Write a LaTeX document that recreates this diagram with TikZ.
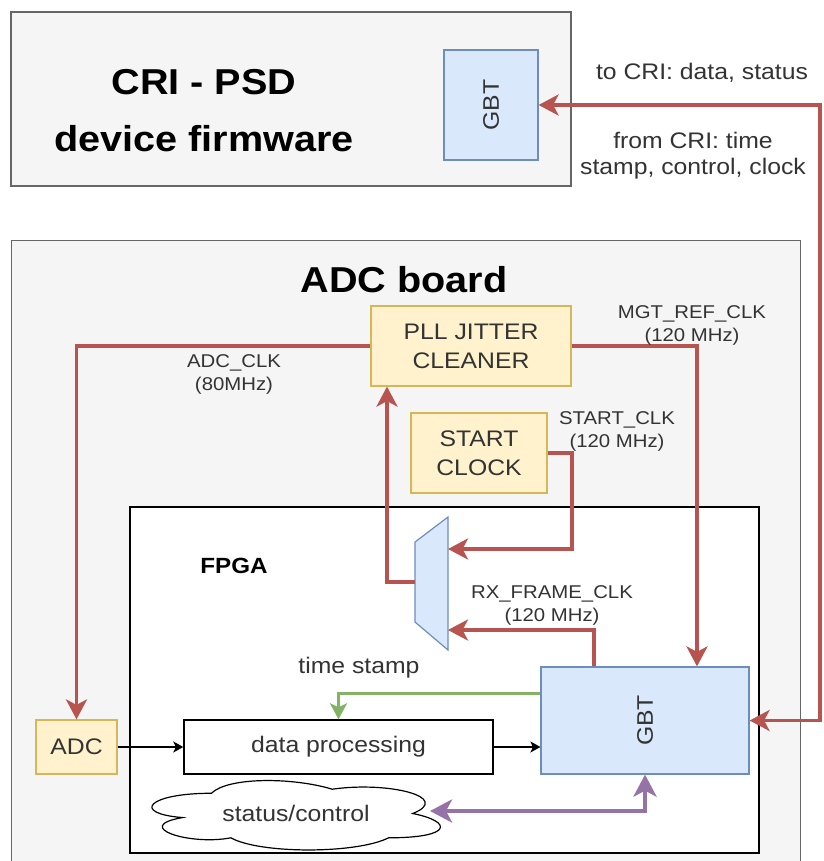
\documentclass[tikz,border=0pt]{standalone}
\usepackage{fontspec}
\setmainfont[FakeStretch=1.1]{Liberation Sans}
\usetikzlibrary{arrows.meta,calc}
\definecolor{redc}{HTML}{B85450}
\definecolor{greenc}{HTML}{82B366}
\definecolor{purpc}{HTML}{9673A6}
\definecolor{grayfill}{HTML}{F5F5F5}
\definecolor{graydraw}{HTML}{666666}
\definecolor{yfill}{HTML}{FFF2CC}
\definecolor{ydraw}{HTML}{D6B656}
\definecolor{bfill}{HTML}{DAE8FC}
\definecolor{bdraw}{HTML}{6C8EBF}
\definecolor{txt}{HTML}{333333}
\begin{document}
\begin{tikzpicture}[x=1pt,y=-1pt,
  graybox/.style={draw=graydraw, fill=grayfill, line width=1.3pt, inner sep=0pt},
  ybox/.style={draw=ydraw, fill=yfill, line width=1.2pt, inner sep=0pt, align=center, text=txt, font=\fontsize{22.5}{29}\selectfont},
  bbox/.style={draw=bdraw, fill=bfill, line width=1.2pt, inner sep=0pt, align=center, text=txt, font=\fontsize{22.5}{27}\selectfont},
  wbox/.style={draw=black, fill=white, line width=1.4pt, inner sep=0pt, align=center, text=txt, font=\fontsize{22.5}{27}\selectfont},
  lbl/.style={inner sep=0pt, align=center, text=txt, font=\fontsize{18.5}{23}\selectfont},
  mlbl/.style={inner sep=0pt, align=center, text=txt, font=\fontsize{22.5}{26}\selectfont},
  title/.style={inner sep=0pt, align=center, text=black, font=\bfseries\fontsize{36}{57}\selectfont},
  redln/.style={draw=redc, line width=3.5pt},
  greenln/.style={draw=greenc, line width=3pt},
  purpln/.style={draw=purpc, line width=4pt},
  blkln/.style={draw=black, line width=1.3pt},
  rtip/.tip={Stealth[length=20pt,width=21pt,inset=5.5pt]},
  gtip/.tip={Stealth[length=16pt,width=17pt,inset=4pt]},
  ptip/.tip={Stealth[length=22pt,width=23pt,inset=6pt]},
  ktip/.tip={Stealth[length=10pt,width=11pt,inset=2.5pt]}
]
\useasboundingbox (0,0) rectangle (823,861);
\clip (0,0) rectangle (823,861);

% CRI box
\node[graybox, minimum width=560pt, minimum height=174pt] (cri) at (291,99) {};
\node[bbox, minimum width=94pt, minimum height=110pt] (gbts) at (491,105) {\rotatebox{90}{GBT}};
\node[title] (crititle) at (204,111) {CRI - PSD\\device firmware};

% ADC board
\node[graybox, minimum width=789pt, minimum height=640pt, anchor=north west] (board) at (11,240) {};
\node[title] (boardtitle) at (404,280) {ADC board};

% FPGA
\node[wbox, minimum width=629pt, minimum height=346pt] (fpga) at (444.5,680) {};
\node[inner sep=0pt, text=black, font=\bfseries\fontsize{22}{26}\selectfont] (fpgat) at (234,566) {FPGA};

% boxes
\node[ybox, minimum width=200pt, minimum height=80pt] (pll) at (471,346) {PLL JITTER\\CLEANER};
\node[ybox, minimum width=136pt, minimum height=80pt] (sc) at (479,453) {START\\CLOCK};
\node[ybox, minimum width=81pt, minimum height=54pt] (adc) at (76.5,747) {ADC};
\node[wbox, minimum width=309pt, minimum height=54pt] (dp) at (338.5,747) {data processing};
\node[bbox, minimum width=208pt, minimum height=107pt] (gbt) at (645,720.5) {\rotatebox{90}{GBT}};

% cloud (draw.io style)
\begin{scope}[shift={(131,773)}, x=322pt, y=-81pt]
\path[draw=black, fill=white, line width=1.2pt]
  (0.25,0.25) .. controls (0.05,0.25) and (0,0.5) .. (0.16,0.55)
  .. controls (0,0.66) and (0.18,0.9) .. (0.31,0.8)
  .. controls (0.4,1) and (0.7,1) .. (0.8,0.8)
  .. controls (1,0.8) and (1,0.6) .. (0.875,0.5)
  .. controls (1,0.3) and (0.8,0.1) .. (0.625,0.2)
  .. controls (0.5,0.05) and (0.3,0.05) .. (0.25,0.25) -- cycle;
\end{scope}
\node[inner sep=0pt, text=txt, font=\fontsize{22.5}{27}\selectfont] (cloud) at (296,813) {status/control};
\coordinate (cloudE) at (430,811);

% mux
\path[draw=bdraw, fill=bfill, line width=1.2pt] (415,542) -- (448,517) -- (448,650) -- (415,622) -- cycle;
\coordinate (muxL) at (415,582);
\coordinate (muxR1) at (448,549);
\coordinate (muxR2) at (448,630);
\coordinate (scturn) at (572,549);
\coordinate (crix) at (820,105);
\coordinate (gy) at (0,693);

% connectors
\draw[redln,-rtip] (pll.west) -| (adc.north);
\draw[redln,-rtip] (pll.east) -| ([xshift=52pt]gbt.north);
\draw[redln,-rtip] (muxL) -| ([xshift=-84pt]pll.south);
\draw[redln,-rtip] (sc.east) -| (scturn) -- (muxR1);
\draw[redln,-rtip] ([xshift=-51pt]gbt.north) |- (muxR2);
\draw[redln,rtip-rtip] (gbts.east) -- (crix) |- (gbt.east);
\draw[greenln,-gtip] (gbt.west |- gy) -| (dp.north);
\draw[blkln,-ktip] (adc.east) -- (dp.west);
\draw[blkln,-ktip] (dp.east) -- (dp.east -| gbt.west);
\draw[purpln,ptip-ptip] (cloudE) -| (gbt.south);

% labels
\node[lbl] (l1) at (234,374) {ADC\_CLK\\(80MHz)};
\node[lbl] (l2) at (692,325) {MGT\_REF\_CLK\\(120 MHz)};
\node[lbl] (l3) at (617,431) {START\_CLK\\(120 MHz)};
\node[lbl] (l4) at (552,605) {RX\_FRAME\_CLK\\(120 MHz)};
\node[mlbl] (l5) at (359,668) {time stamp};
\node[mlbl] (l6) at (702,73) {to CRI: data, status};
\node[mlbl] (l7) at (693,156) {from CRI: time\\stamp, control, clock};
\end{tikzpicture}
\end{document}
